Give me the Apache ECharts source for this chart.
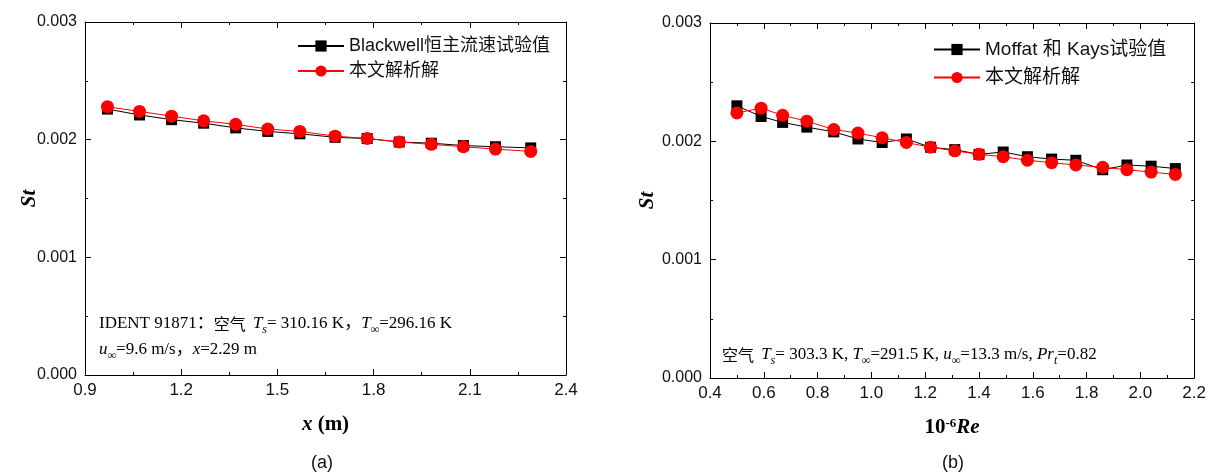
<!DOCTYPE html>
<html>
<head>
<meta charset="utf-8">
<script src="https://cdn.jsdelivr.net/npm/echarts@6/dist/echarts.min.js"></script>
<style>
html,body{margin:0;padding:0;background:#fff;}
#c{width:1209px;height:474px;}
</style>
</head>
<body>
<div id="c"></div>
<script>
// ---- data: plot (a) ----
const xA = [0.97, 1.07, 1.17, 1.27, 1.37, 1.47, 1.57, 1.68, 1.78, 1.88, 1.98, 2.08, 2.18, 2.29];
const blackwellSt = [0.00226, 0.00221, 0.00217, 0.00214, 0.00210, 0.00207, 0.00205, 0.00202, 0.00201, 0.00198, 0.00197, 0.00195, 0.00194, 0.00193];
const analyticA = [0.00228, 0.00224, 0.00220, 0.00216, 0.00213, 0.00209, 0.00207, 0.00203, 0.00201, 0.00198, 0.00196, 0.00194, 0.00192, 0.00190];
// ---- data: plot (b) ----
const reB = [0.50, 0.59, 0.67, 0.76, 0.86, 0.95, 1.04, 1.13, 1.22, 1.31, 1.40, 1.49, 1.58, 1.67, 1.76, 1.86, 1.95, 2.04, 2.13];
const moffatSt = [0.00230, 0.00221, 0.00216, 0.00212, 0.00208, 0.00202, 0.00199, 0.00202, 0.00195, 0.00193, 0.00189, 0.00191, 0.00187, 0.00185, 0.00184, 0.00176, 0.00180, 0.00179, 0.00177];
const analyticB = [0.00224, 0.00228, 0.00222, 0.00217, 0.00210, 0.00207, 0.00203, 0.00199, 0.00195, 0.00192, 0.00189, 0.00187, 0.00184, 0.00182, 0.00180, 0.00178, 0.00176, 0.00174, 0.00172];
// ---- tick settings ----
const xTicksA = {min: 0.9, max: 2.4, interval: 0.3};
const xTicksB = {min: 0.4, max: 2.2, interval: 0.2};
const yTicks = {min: 0, max: 0.003, interval: 0.001};
const names = {
  a1: 'Blackwell恒主流速试验值',
  b1: 'Moffat 和 Kays试验值',
  an: '本文解析解'
};

const latin = 'Liberation Sans, Arial, Noto Sans CJK SC, sans-serif';
const serif = 'Liberation Serif, Times New Roman, Noto Sans CJK SC, serif';

function xAxisPair(grid, t, dec) {
  const base = {
    gridIndex: grid, type: 'value', min: t.min, max: t.max, interval: t.interval,
    axisLine: {show: true, onZero: false, lineStyle: {color: '#000', width: 1}},
    axisTick: {show: true, inside: true, length: 6, lineStyle: {color: '#000'}},
    minorTick: {show: true, splitNumber: 2, length: 3, lineStyle: {color: '#000'}},
    splitLine: {show: false}
  };
  return [
    Object.assign({}, base, {
      position: 'bottom',
      axisLabel: {show: true, fontSize: 17, color: '#111', fontFamily: latin, margin: 7,
        formatter: v => v.toFixed(dec)}
    }),
    Object.assign({}, base, {position: 'top', axisLabel: {show: false}})
  ];
}
function yAxisPair(grid, gap) {
  const base = {
    gridIndex: grid, type: 'value', min: yTicks.min, max: yTicks.max, interval: yTicks.interval,
    axisLine: {show: true, onZero: false, lineStyle: {color: '#000', width: 1}},
    axisTick: {show: true, inside: true, length: 6, lineStyle: {color: '#000'}},
    minorTick: {show: true, splitNumber: 2, length: 3, lineStyle: {color: '#000'}},
    splitLine: {show: false}
  };
  return [
    Object.assign({}, base, {
      position: 'left',
      name: 'St', nameLocation: 'middle', nameGap: gap, nameRotate: 90, nameMoveOverlap: false,
      nameTextStyle: {fontFamily: serif, fontSize: 21, fontWeight: 'bold', fontStyle: 'italic', color: '#000'},
      axisLabel: {show: true, fontSize: 16, color: '#111', fontFamily: latin, margin: 8,
        formatter: v => v.toFixed(3)}
    }),
    Object.assign({}, base, {position: 'right', axisLabel: {show: false}})
  ];
}

const xa = xAxisPair(0, xTicksA, 1);
const xb = xAxisPair(1, xTicksB, 1);
xa[0].name = '{i|x}{b| (m)}';
xb[0].name = '{b|10}{sup|-6}{bi|Re}';
const nameStyle = {
  rich: {
    i: {fontFamily: serif, fontSize: 21, fontWeight: 'bold', fontStyle: 'italic', color: '#000'},
    b: {fontFamily: serif, fontSize: 21, fontWeight: 'bold', color: '#000'},
    bi: {fontFamily: serif, fontSize: 21, fontWeight: 'bold', fontStyle: 'italic', color: '#000'},
    sup: {fontFamily: serif, fontSize: 13, fontWeight: 'bold', color: '#000', lineHeight: 10, verticalAlign: 'top'}
  }
};
[xa[0], xb[0]].forEach(ax => {
  ax.nameLocation = 'middle';
  ax.nameGap = 39;
  ax.nameTextStyle = nameStyle;
});

const ya = yAxisPair(0, 45);
const yb = yAxisPair(1, 52);

function lineSeries(name, xi, yi, xs, ys, color, symbol, size, z) {
  return {
    name: name, type: 'line', xAxisIndex: xi, yAxisIndex: yi,
    data: xs.map((x, i) => [x, ys[i]]),
    symbol: symbol, symbolSize: size, showSymbol: true,
    lineStyle: {color: color, width: 1},
    itemStyle: {color: color},
    z: z, animation: false
  };
}

const annotRich = {
  n: {fontFamily: serif, fontSize: 17, color: '#111', lineHeight: 24},
  c: {fontFamily: 'Noto Sans CJK SC, sans-serif', fontSize: 16, color: '#444', lineHeight: 24},
  i: {fontFamily: serif, fontSize: 17, fontStyle: 'italic', color: '#111', lineHeight: 24},
  s: {fontFamily: serif, fontSize: 12, fontStyle: 'italic', color: '#111', lineHeight: 8, verticalAlign: 'bottom'}
};

const option = {
  animation: false,
  backgroundColor: '#fff',
  grid: [
    {left: 85, top: 22, width: 481, height: 353, containLabel: false},
    {left: 710, top: 23, width: 487, height: 355, containLabel: false}
  ],
  xAxis: [xa[0], xa[1], xb[0], xb[1]],
  yAxis: [ya[0], ya[1], yb[0], yb[1]],
  legend: [
    {
      data: [names.a1, names.an], orient: 'vertical', left: 292, top: 32,
      itemWidth: 46, itemHeight: 14, itemGap: 7,
      textStyle: {fontSize: 18, color: '#111', fontFamily: latin},
      selectedMode: false
    },
    {
      data: [names.b1, names.an], orient: 'vertical', left: 928, top: 35,
      itemWidth: 46, itemHeight: 14, itemGap: 9,
      textStyle: {fontSize: 19, color: '#111', fontFamily: latin},
      selectedMode: false
    }
  ],
  series: [
    lineSeries(names.a1, 0, 0, xA, blackwellSt, '#000', 'rect', 11, 2),
    lineSeries(names.an, 0, 0, xA, analyticA, '#ff0000', 'circle', 13, 3),
    lineSeries(names.b1, 2, 2, reB, moffatSt, '#000', 'rect', 11, 2),
    lineSeries(names.an, 2, 2, reB, analyticB, '#ff0000', 'circle', 13, 3)
  ],
  graphic: [
    {type: 'text', left: 99, top: 315, style: {
      text: '{n|IDENT 91871：}{c|空气  }{i|T}{s|s}{n|= 310.16 K，}{i|T}{s|∞}{n|=296.16 K}', rich: annotRich}},
    {type: 'text', left: 99, top: 341, style: {
      text: '{i|u}{s|∞}{n|=9.6 m/s，}{i|x}{n|=2.29 m}', rich: annotRich}},
    {type: 'text', left: 722, top: 346, style: {
      text: '{c|空气  }{i|T}{s|s}{n|= 303.3 K, }{i|T}{s|∞}{n|=291.5 K, }{i|u}{s|∞}{n|=13.3 m/s, }{i|Pr}{s|t}{n|=0.82}', rich: annotRich}},
    {type: 'text', x: 322, y: 463, style: {text: '(a)', font: '18px Liberation Sans, Arial', fill: '#111', align: 'center', verticalAlign: 'middle'}},
    {type: 'text', x: 953, y: 463, style: {text: '(b)', font: '18px Liberation Sans, Arial', fill: '#111', align: 'center', verticalAlign: 'middle'}}
  ]
};

const chart = echarts.init(document.getElementById('c'), null, {renderer: 'canvas'});
chart.setOption(option);
</script>
</body>
</html>
